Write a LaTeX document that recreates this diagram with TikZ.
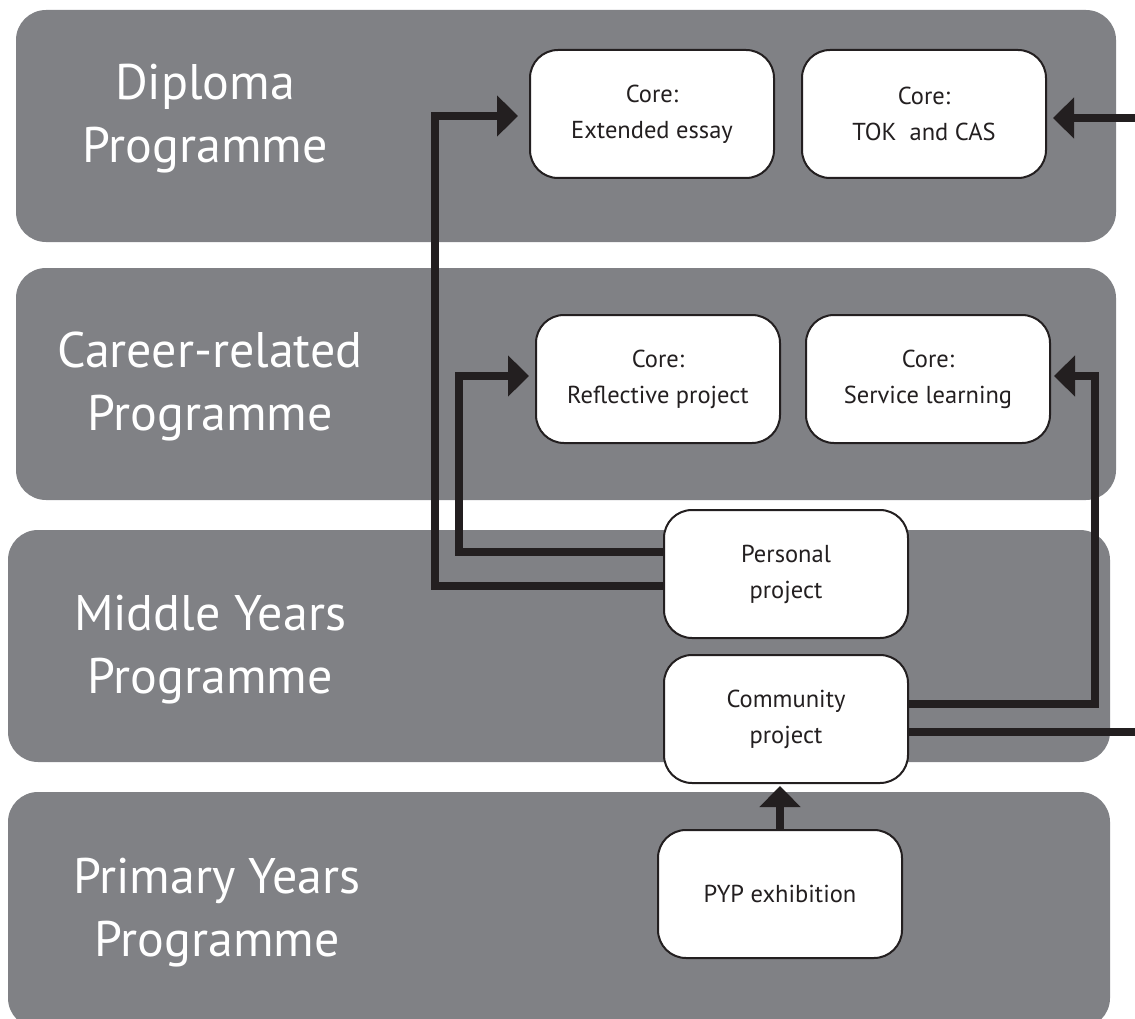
\documentclass[tikz,border=0pt]{standalone}
\usepackage{fontspec}
\setmainfont{PT Sans}
\usetikzlibrary{arrows.meta,calc}
\definecolor{band}{RGB}{128,129,133}
\definecolor{ink}{RGB}{35,31,32}
\tikzset{
  bandbox/.style={fill=band, draw=none, rounded corners=30pt},
  bandlabel/.style={text=white, align=center, font=\fontsize{50}{63}\selectfont, inner sep=0pt},
  corebox/.style={draw=ink, line width=2pt, fill=white, rounded corners=28pt,
     minimum width=244pt, minimum height=128pt, align=center, inner sep=0pt,
     text=ink, font=\fontsize{24.5}{36}\selectfont},
  link/.style={draw=ink, line width=7.5pt, line join=miter},
  linkarrow/.style={link, -{Triangle[length=21pt,width=40pt]}}
}
\begin{document}
\begin{tikzpicture}[x=1pt,y=-1pt]
\useasboundingbox (0,0) rectangle (1135,1019);
\clip (0,0) rectangle (1135,1019);
% bands
\path[bandbox] (16,10) rectangle (1116,242);
\path[bandbox] (16,268) rectangle (1116,500);
\path[bandbox] (8,530) rectangle (1110,762);
\path[bandbox] (8,792) rectangle (1110,1028);
% band labels
\node[bandlabel] (dpl) at (205,119) {Diploma\\Programme};
\node[bandlabel] (cpl) at (210,386) {Career-related\\Programme};
\node[bandlabel] (mypl) at (210,650) {Middle Years\\Programme};
\node[bandlabel] (pypl) at (217,913) {Primary Years\\Programme};
% boxes
\node[corebox] (ee) at (652,114) {Core:\\Extended essay};
\node[corebox] (tok) at (924,114) {Core:\\TOK\ \ and CAS};
\node[corebox] (rp) at (658,379) {Core:\\Reflective project};
\node[corebox] (sl) at (928,379) {Core:\\Service learning};
\node[corebox] (pp) at (786,574) {Personal\\project};
\node[corebox] (cmp) at (786,719) {Community\\project};
\node[corebox] (pyp) at (780,894) {PYP exhibition};
% helper coordinates
\coordinate (rightA) at (1140,118);
\coordinate (rightB) at (1140,732);
% connectors
\draw[linkarrow] (pp.west |- 0,586) -| (435,116) -- ($(ee.west |- 0,116)+(-11,0)$);
\draw[linkarrow] (pp.west |- 0,552) -| (459,376) -- ($(rp.west |- 0,376)+(-6,0)$);
\draw[linkarrow] (cmp.east |- 0,704) -| (1095,376) -- ($(sl.east |- 0,376)+(3,0)$);
\draw[link] (cmp.east |- 0,732) -- (rightB);
\draw[linkarrow] (rightA) -- ($(tok.east |- 0,118)+(6,0)$);
\draw[linkarrow] (pyp.north) -- ($(pyp.north |- cmp.south)+(0,2)$);
\end{tikzpicture}
\end{document}
